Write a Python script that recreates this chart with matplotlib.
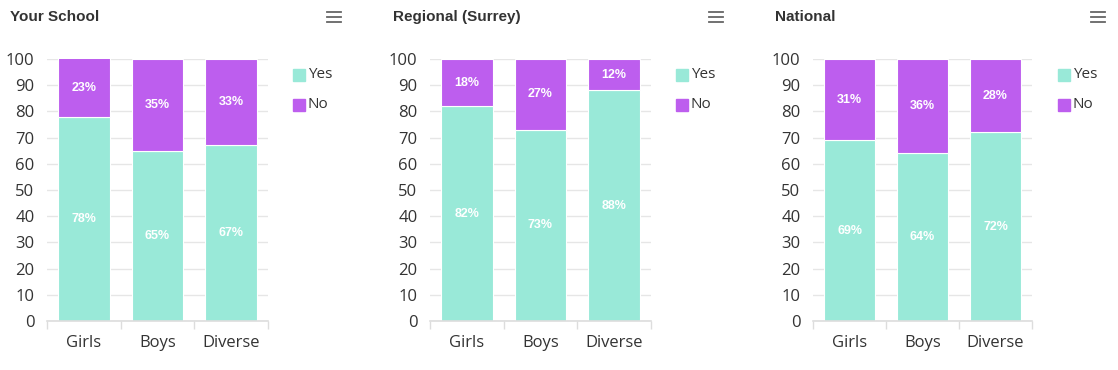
import matplotlib.pyplot as plt
from matplotlib.lines import Line2D
from matplotlib.patches import Rectangle

# chart data
panels = ["Your School", "Regional (Surrey)", "National"]
categories = ["Girls", "Boys", "Diverse"]
yes_school = [78, 65, 67]
no_school = [23, 35, 33]
yes_region = [82, 73, 88]
no_region = [18, 27, 12]
yes_national = [69, 64, 72]
no_national = [31, 36, 28]
yes_values = [yes_school, yes_region, yes_national]
no_values = [no_school, no_region, no_national]

YES_COL = "#99e9d8"
NO_COL = "#bd5eee"
GRID_COL = "#e6e6e6"
TEXT_COL = "#333333"

W, H = 1118, 370
fig = plt.figure(figsize=(W / 100, H / 100), dpi=100)

# pixel positions of each panel: (title x, plot left, plot right, legend x, menu x)
layout = [(10, 47, 268, 293, 334), (393, 430, 651, 676, 716), (775, 813, 1032, 1058, 1098)]
top_px, bottom_px = 59, 321


def fx(px):
    return px / W


def fy(py):
    return 1 - py / H


for i, (tx, left, right, lx, mx) in enumerate(layout):
    ax = fig.add_axes([fx(left), fy(bottom_px), fx(right - left), (bottom_px - top_px) / H])
    x = range(len(categories))
    yes = yes_values[i]
    no = no_values[i]
    ax.bar(x, yes, width=0.7, color=YES_COL, edgecolor="white", linewidth=0.8, zorder=2)
    ax.bar(x, no, bottom=yes, width=0.7, color=NO_COL, edgecolor="white", linewidth=0.8, zorder=2)
    for xi, y1, n1 in zip(x, yes, no):
        ax.text(xi, y1 / 2, f"{y1}%", ha="center", va="center", color="white",
                fontsize=9, fontweight="bold", family="Liberation Sans", zorder=3)
        top = min(y1 + n1, 100)
        ax.text(xi, (y1 + top) / 2, f"{n1}%", ha="center", va="center", color="white",
                fontsize=9, fontweight="bold", family="Liberation Sans", zorder=3)
    ax.set_xlim(-0.5, 2.5)
    ax.set_ylim(0, 100)
    ax.set_yticks(range(0, 101, 10))
    ax.set_xticks(list(x))
    ax.set_xticklabels(categories)
    ax.set_xticks([-0.5, 0.5, 1.5, 2.5], minor=True)
    ax.grid(axis="y", color=GRID_COL, linewidth=1, zorder=0)
    for s in ["top", "right", "left"]:
        ax.spines[s].set_visible(False)
    ax.spines["bottom"].set_color("#dddddd")
    ax.spines["bottom"].set_linewidth(1.2)
    ax.tick_params(axis="y", length=0, pad=9, labelsize=12, labelcolor=TEXT_COL)
    ax.tick_params(axis="x", which="major", length=0, pad=10, labelsize=12, labelcolor=TEXT_COL)
    ax.tick_params(axis="x", which="minor", length=6, color="#dddddd", width=1)
    for lab in ax.get_xticklabels() + ax.get_yticklabels():
        lab.set_family("Open Sans")

    # title
    fig.text(fx(tx), fy(17), panels[i], fontsize=11, fontweight="bold",
             color=TEXT_COL, family="Liberation Sans", va="center", ha="left")
    # menu icon
    for dy in (12, 17, 22):
        fig.add_artist(Line2D([fx(mx - 7), fx(mx + 7)], [fy(dy), fy(dy)],
                              color="#666666", linewidth=1.3))
    # legend
    for j, (name, col) in enumerate([("Yes", YES_COL), ("No", NO_COL)]):
        cy = 75 + j * 30
        fig.add_artist(Rectangle((fx(lx), fy(cy + 6)), fx(12), 12 / H,
                                 color=col, transform=fig.transFigure))
        fig.text(fx(lx + 15), fy(cy), name, fontsize=11, color=TEXT_COL,
                 family="Open Sans", va="center", ha="left")

fig.savefig("out.png", dpi=100)
